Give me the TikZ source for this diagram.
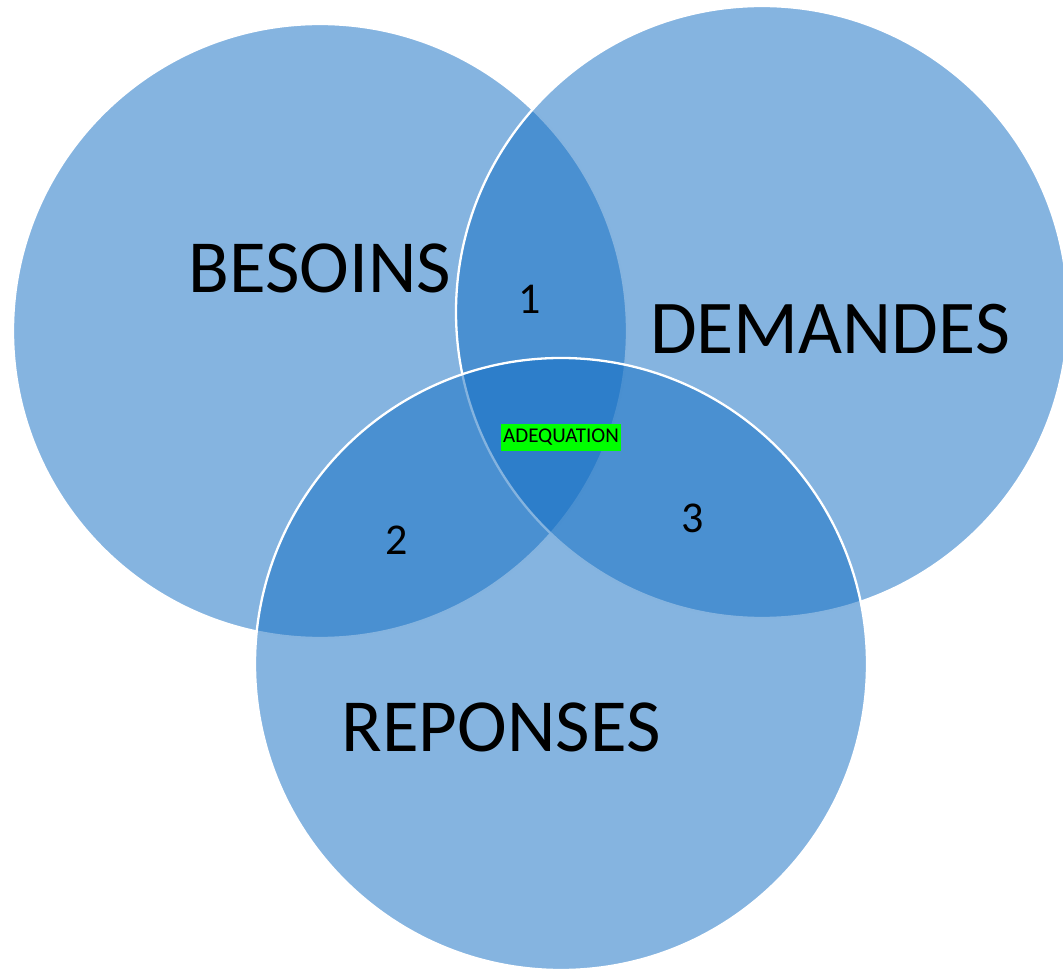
\documentclass[tikz,border=0pt]{standalone}
\usepackage{fontspec}
\setmainfont{Carlito}
\definecolor{venn}{RGB}{19,110,195}
\definecolor{hl}{RGB}{0,255,0}
\begin{document}
\begin{tikzpicture}[x=1pt,y=-1pt,
  vennc/.style={fill=venn, fill opacity=0.516, draw=white, line width=2.3pt},
  big/.style={inner sep=0pt, text=black, font=\fontsize{75}{75}\selectfont},
  num/.style={inner sep=0pt, text=black, font=\fontsize{44}{44}\selectfont},
  tag/.style={fill=hl, inner sep=0pt, minimum width=120pt, minimum height=27pt, text=black, font=\fontsize{21}{21}\selectfont}]
\useasboundingbox (0,0) rectangle (1063,973);
\clip (0,0) rectangle (1063,973);
\path[vennc] (320,331) circle[radius=307pt];
\path[vennc] (762,312) circle[radius=306pt];
\path[vennc] (561,664) circle[radius=306pt];
\node[big] (besoins) at (320,268) {BESOINS};
\node[big, font=\fontsize{76}{76}\selectfont] (demandes) at (830,329) {DEMANDES};
\node[big] (reponses) at (501,727) {REPONSES};
\node[num] (n1) at (530,299) {1};
\node[num] (n2) at (397,540) {2};
\node[num] (n3) at (693,518) {3};
\node[tag] (adeq) at (561,437.5) {ADEQUATION};
\end{tikzpicture}
\end{document}
